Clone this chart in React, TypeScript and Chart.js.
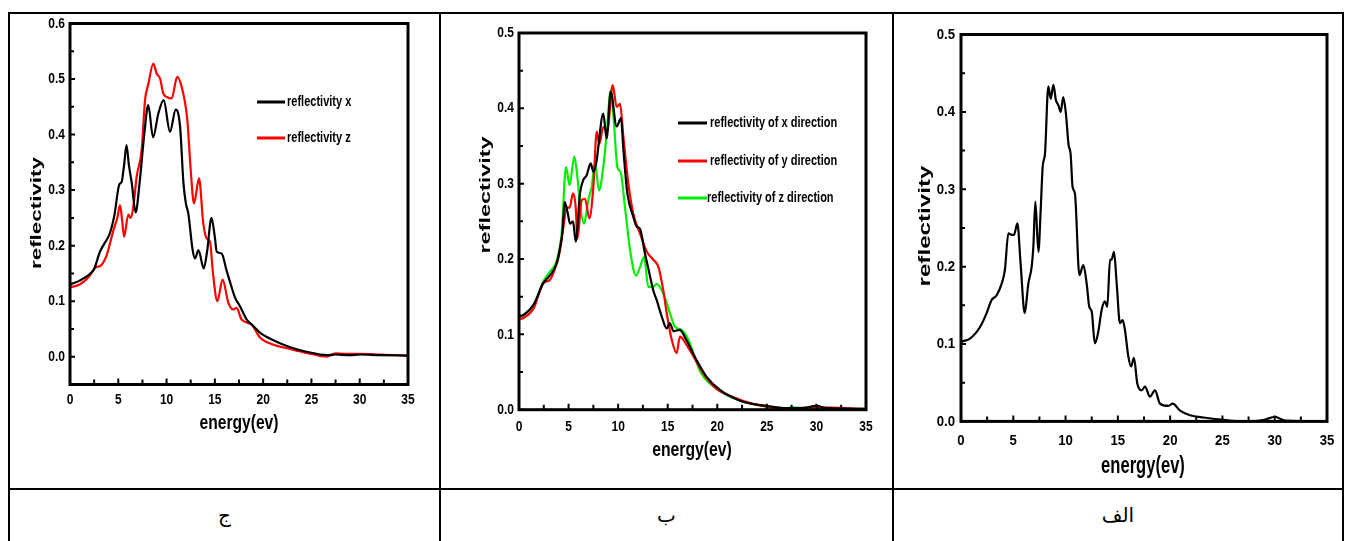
import React, { useEffect, useRef } from "react";
import { Chart, registerables } from "chart.js";

Chart.register(...registerables);

// ---------- Panel ج (left) ----------
const p1EnergyX = [0, 1, 2, 2.5, 3.1, 3.6, 4.1, 4.6, 5.1, 5.35, 5.6, 5.85, 6.1, 6.4, 6.8, 7.2, 7.7, 8.1, 8.6, 9.15, 9.7, 10.35, 10.95, 11.4, 11.75, 12.0, 12.25, 12.7, 12.95, 13.3, 13.85, 14.2, 14.65, 15.0, 15.2, 15.7, 16.2, 16.7, 17.1, 17.6, 18.3, 19.0, 19.7, 21.0, 22.8, 24.5, 26.6, 27.5, 29, 30, 32, 35];
const p1ReflX = [0.13, 0.137, 0.148, 0.158, 0.189, 0.205, 0.221, 0.255, 0.31, 0.315, 0.345, 0.381, 0.345, 0.312, 0.26, 0.312, 0.402, 0.453, 0.395, 0.438, 0.462, 0.405, 0.445, 0.414, 0.312, 0.276, 0.258, 0.192, 0.177, 0.192, 0.159, 0.19, 0.25, 0.215, 0.189, 0.186, 0.156, 0.127, 0.106, 0.091, 0.067, 0.055, 0.043, 0.03, 0.017, 0.009, 0.003, 0.004, 0.003, 0.004, 0.003, 0.002];
const p1EnergyZ = [0, 1, 2, 2.5, 2.8, 3.1, 3.8, 4.5, 4.9, 5.18, 5.4, 5.6, 6.04, 6.28, 6.56, 6.9, 7.42, 7.77, 8.1, 8.63, 8.97, 9.32, 9.66, 10.0, 10.53, 11.1, 11.56, 12.15, 12.5, 12.84, 13.36, 13.8, 14.15, 14.5, 14.8, 15.26, 15.8, 16.4, 16.9, 17.25, 17.77, 18.8, 19.7, 21, 22.8, 24.5, 26.6, 27.5, 28.5, 30, 32, 35];
const p1ReflZ = [0.125, 0.13, 0.145, 0.158, 0.162, 0.163, 0.183, 0.228, 0.25, 0.273, 0.245, 0.216, 0.256, 0.25, 0.27, 0.324, 0.372, 0.462, 0.49, 0.528, 0.51, 0.501, 0.474, 0.468, 0.465, 0.504, 0.486, 0.426, 0.336, 0.276, 0.321, 0.24, 0.213, 0.207, 0.151, 0.1, 0.139, 0.097, 0.085, 0.088, 0.067, 0.058, 0.034, 0.022, 0.014, 0.007, 0.0, 0.006, 0.005, 0.005, 0.004, 0.002];

// ---------- Panel ب (middle) ----------
const p2EnergyX = [0, 0.5, 1.5, 2.45, 3.1, 3.8, 4.1, 4.4, 4.6, 4.9, 5.15, 5.45, 5.72, 6.15, 6.49, 6.82, 7.23, 7.5, 7.84, 8.0, 8.5, 8.84, 9.25, 9.85, 10.29, 10.53, 10.93, 11.53, 11.87, 12.2, 12.71, 13.05, 13.55, 13.9, 14.39, 14.9, 15.2, 15.6, 16.2, 16.9, 17.9, 18.9, 20.3, 22.3, 25, 27, 28.5, 30, 31, 35];
const p2ReflX = [0.124, 0.126, 0.14, 0.168, 0.178, 0.194, 0.212, 0.238, 0.276, 0.262, 0.247, 0.25, 0.223, 0.287, 0.305, 0.311, 0.327, 0.316, 0.331, 0.349, 0.393, 0.36, 0.422, 0.376, 0.387, 0.345, 0.287, 0.256, 0.243, 0.24, 0.207, 0.187, 0.158, 0.145, 0.124, 0.108, 0.115, 0.104, 0.106, 0.092, 0.066, 0.044, 0.026, 0.012, 0.005, 0.002, 0.002, 0.005, 0.002, 0.001];
const p2EnergyY = [0, 0.5, 1.5, 2.45, 3.1, 3.8, 4.14, 4.5, 4.81, 5.1, 5.45, 5.72, 5.89, 6.32, 6.66, 7.1, 7.5, 7.84, 8.1, 8.5, 8.9, 9.45, 9.85, 10.19, 10.53, 11.03, 11.53, 12.2, 12.88, 13.55, 14.05, 14.56, 14.9, 15.4, 15.9, 16.23, 16.9, 17.5, 18.6, 19.9, 21.6, 23.5, 25, 26.5, 28, 30, 35];
const p2ReflY = [0.12, 0.122, 0.135, 0.168, 0.172, 0.194, 0.212, 0.245, 0.269, 0.268, 0.287, 0.269, 0.227, 0.278, 0.28, 0.254, 0.296, 0.369, 0.353, 0.375, 0.37, 0.431, 0.402, 0.406, 0.362, 0.3, 0.26, 0.234, 0.21, 0.199, 0.19, 0.158, 0.128, 0.093, 0.075, 0.097, 0.086, 0.073, 0.048, 0.028, 0.017, 0.008, 0.004, 0.001, 0.002, 0.003, 0.001];
const p2EnergyZ = [0, 0.5, 1.5, 2.45, 3.1, 3.8, 4.3, 4.74, 5.1, 5.58, 5.92, 6.15, 6.56, 6.99, 7.33, 7.67, 8.07, 8.5, 8.84, 9.25, 9.58, 9.92, 10.25, 10.69, 11.2, 11.8, 12.2, 12.61, 13.05, 13.48, 13.9, 14.56, 15.23, 15.73, 16.4, 17.08, 18.3, 19.9, 22.3, 25, 26.5, 27.5, 29, 30, 31, 35];
const p2ReflZ = [0.123, 0.126, 0.14, 0.17, 0.183, 0.198, 0.234, 0.322, 0.298, 0.336, 0.305, 0.273, 0.247, 0.278, 0.296, 0.327, 0.291, 0.322, 0.366, 0.424, 0.38, 0.322, 0.315, 0.269, 0.212, 0.178, 0.189, 0.203, 0.163, 0.163, 0.167, 0.154, 0.128, 0.11, 0.106, 0.093, 0.05, 0.028, 0.012, 0.004, 0.0, 0.003, 0.002, 0.003, 0.001, 0.001];

// ---------- Panel الف (right) ----------
const p3Energy = [0, 0.86, 1.82, 2.45, 2.93, 3.41, 3.89, 4.2, 4.53, 4.85, 5.07, 5.39, 5.7, 6.09, 6.44, 6.76, 6.92, 7.11, 7.4, 7.62, 7.81, 8.03, 8.35, 8.58, 8.83, 9.08, 9.3, 9.53, 9.78, 10.03, 10.29, 10.48, 10.67, 10.9, 11.32, 11.7, 12.02, 12.27, 12.5, 12.8, 13.13, 13.45, 13.77, 13.99, 14.25, 14.4, 14.63, 14.89, 15.2, 15.46, 15.68, 16.0, 16.26, 16.54, 16.86, 17.28, 17.6, 18.07, 18.55, 19.03, 19.83, 20.24, 20.95, 21.9, 23.2, 25.1, 27, 29, 30, 31, 35];
const p3Refl = [0.103, 0.107, 0.122, 0.14, 0.157, 0.163, 0.178, 0.196, 0.243, 0.241, 0.241, 0.256, 0.204, 0.14, 0.178, 0.2, 0.226, 0.284, 0.219, 0.273, 0.329, 0.346, 0.433, 0.417, 0.435, 0.415, 0.409, 0.4, 0.419, 0.398, 0.357, 0.346, 0.303, 0.294, 0.189, 0.202, 0.178, 0.148, 0.142, 0.101, 0.116, 0.144, 0.155, 0.148, 0.209, 0.209, 0.219, 0.178, 0.127, 0.131, 0.118, 0.084, 0.071, 0.082, 0.049, 0.04, 0.045, 0.032, 0.04, 0.023, 0.02, 0.023, 0.014, 0.008, 0.005, 0.002, 0.0, 0.002, 0.006, 0.001, 0.0];

// ---------- ticks / labels ----------
const xMajorTicks = [0, 5, 10, 15, 20, 25, 30, 35];
const xMinorTicks = [2.5, 7.5, 12.5, 17.5, 22.5, 27.5, 32.5];
const p1YLabels = [0, 0.1, 0.2, 0.3, 0.4, 0.5, 0.6];
const p1YMinor = [0.05, 0.15, 0.25, 0.35, 0.45, 0.55];
const p23YLabels = [0, 0.1, 0.2, 0.3, 0.4, 0.5];
const p23YMinor = [0.05, 0.15, 0.25, 0.35, 0.45];
const xTitleText = "energy(ev)";
const yTitleText = "reflectivity";
const p1LegendLabels = ["reflectivity x", "reflectivity z"];
const p2LegendLabels = ["reflectivity of x direction", "reflectivity of y direction", "reflectivity of z direction"];
const cellLabels = ["ج", "ب", "الف"];

const BLACK = "#000000";
const RED = "#ff0000";
const GREEN = "#00ee00";

type Series = { xs: number[]; ys: number[]; color: string; label: string };
type Panel = {
  box: { left: number; top: number; width: number; height: number };
  pad: { left: number; top: number; right: number; bottom: number };
  yMin: number;
  yMax: number;
  yLabels: number[];
  yMinor: number[];
  series: Series[];
  tickFont: number;
  tickK: number;
  xLabelGap: number;
  yLabelGap: number;
  yTitle: { cx: number; cy: number; size: number; k: number };
  xTitle: { cx: number; cy: number; size: number; k: number };
  legend: { x1: number; x2: number; textX: number[]; ys: number[]; size: number; k: number };
};

const panels: Panel[] = [
  {
    box: { left: 11, top: 15, width: 427, height: 472 },
    pad: { left: 59, top: 8.5, right: 30, bottom: 102.5 },
    yMin: -0.05,
    yMax: 0.6,
    yLabels: p1YLabels,
    yMinor: p1YMinor,
    series: [
      { xs: p1EnergyX, ys: p1ReflX, color: BLACK, label: p1LegendLabels[0] },
      { xs: p1EnergyZ, ys: p1ReflZ, color: RED, label: p1LegendLabels[1] },
    ],
    tickFont: 15,
    tickK: 0.8,
    xLabelGap: 15.5,
    yLabelGap: 5,
    yTitle: { cx: 37, cy: 213, size: 22.4, k: 0.64 },
    xTitle: { cx: 239, cy: 423, size: 20, k: 0.78 },
    legend: { x1: 257, x2: 285, textX: [287, 287], ys: [102, 138], size: 14.5, k: 0.76 },
  },
  {
    box: { left: 442, top: 15, width: 449, height: 472 },
    pad: { left: 77, top: 18, right: 25, bottom: 77.3 },
    yMin: 0,
    yMax: 0.5,
    yLabels: p23YLabels,
    yMinor: p23YMinor,
    series: [
      { xs: p2EnergyX, ys: p2ReflX, color: BLACK, label: p2LegendLabels[0] },
      { xs: p2EnergyY, ys: p2ReflY, color: RED, label: p2LegendLabels[1] },
      { xs: p2EnergyZ, ys: p2ReflZ, color: GREEN, label: p2LegendLabels[2] },
    ],
    tickFont: 15,
    tickK: 0.8,
    xLabelGap: 17,
    yLabelGap: 5,
    yTitle: { cx: 486, cy: 195, size: 23.4, k: 0.62 },
    xTitle: { cx: 692, cy: 450, size: 21, k: 0.75 },
    legend: { x1: 678, x2: 707, textX: [710, 710, 707], ys: [123, 161, 198], size: 15.5, k: 0.71 },
  },
  {
    box: { left: 895, top: 15, width: 446, height: 472 },
    pad: { left: 66, top: 19.5, right: 14, bottom: 65.6 },
    yMin: 0,
    yMax: 0.5,
    yLabels: p23YLabels,
    yMinor: p23YMinor,
    series: [{ xs: p3Energy, ys: p3Refl, color: BLACK, label: "reflectivity" }],
    tickFont: 15.5,
    tickK: 0.85,
    xLabelGap: 19,
    yLabelGap: 6,
    yTitle: { cx: 926, cy: 226, size: 24.2, k: 0.66 },
    xTitle: { cx: 1143, cy: 466, size: 24, k: 0.69 },
    legend: { x1: 0, x2: 0, textX: [], ys: [], size: 14, k: 0.77 },
  },
];

const FONT = '"Liberation Sans", Arial, "DejaVu Sans", sans-serif';

function drawText(
  ctx: CanvasRenderingContext2D,
  text: string,
  x: number,
  y: number,
  size: number,
  k: number,
  align: CanvasTextAlign,
  rotate = false
) {
  ctx.save();
  ctx.translate(x, y);
  ctx.scale(k, 1);
  if (rotate) ctx.rotate(-Math.PI / 2);
  ctx.font = `bold ${size}px ${FONT}`;
  ctx.fillStyle = "#000";
  ctx.textAlign = align;
  ctx.textBaseline = "middle";
  ctx.fillText(text, 0, 0);
  ctx.restore();
}

function makePlugin(p: Panel) {
  return {
    id: "decor",
    afterDraw(chart: any) {
      const ctx: CanvasRenderingContext2D = chart.ctx;
      const { left, right, top, bottom } = chart.chartArea;
      const xs = chart.scales.x;
      const ys = chart.scales.y;
      const ox = p.box.left;
      const oy = p.box.top;
      ctx.save();
      // ticks
      ctx.strokeStyle = "#000";
      ctx.lineWidth = 2;
      ctx.beginPath();
      xMajorTicks.forEach((v) => {
        const px = xs.getPixelForValue(v);
        ctx.moveTo(px, bottom);
        ctx.lineTo(px, bottom - 6);
      });
      xMinorTicks.forEach((v) => {
        const px = xs.getPixelForValue(v);
        ctx.moveTo(px, bottom);
        ctx.lineTo(px, bottom - 5);
      });
      p.yLabels.forEach((v) => {
        const py = ys.getPixelForValue(v);
        ctx.moveTo(left, py);
        ctx.lineTo(left + 5, py);
      });
      p.yMinor.forEach((v) => {
        const py = ys.getPixelForValue(v);
        ctx.moveTo(left, py);
        ctx.lineTo(left + 4, py);
      });
      ctx.stroke();
      // frame
      ctx.lineWidth = 3;
      ctx.strokeRect(left, top, right - left, bottom - top);
      // tick labels
      xMajorTicks.forEach((v) => {
        drawText(ctx, String(v), xs.getPixelForValue(v), bottom + p.xLabelGap, p.tickFont, p.tickK, "center");
      });
      p.yLabels.forEach((v) => {
        drawText(ctx, v.toFixed(1), left - p.yLabelGap, ys.getPixelForValue(v), p.tickFont, p.tickK, "right");
      });
      // titles
      drawText(ctx, yTitleText, p.yTitle.cx - ox, p.yTitle.cy - oy, p.yTitle.size, p.yTitle.k, "center", true);
      drawText(ctx, xTitleText, p.xTitle.cx - ox, p.xTitle.cy - oy, p.xTitle.size, p.xTitle.k, "center");
      // legend
      p.legend.ys.forEach((ly, i) => {
        const s = p.series[i];
        ctx.strokeStyle = s.color;
        ctx.lineWidth = 3;
        ctx.beginPath();
        ctx.moveTo(p.legend.x1 - ox, ly - oy);
        ctx.lineTo(p.legend.x2 - ox, ly - oy);
        ctx.stroke();
        drawText(ctx, s.label, p.legend.textX[i] - ox, ly - oy, p.legend.size, p.legend.k, "left");
      });
      ctx.restore();
    },
  };
}

function PanelChart({ p }: { p: Panel }) {
  const ref = useRef<HTMLCanvasElement | null>(null);
  useEffect(() => {
    if (!ref.current) return;
    const chart = new Chart(ref.current, {
      type: "line",
      data: {
        datasets: p.series.map((s) => ({
          label: s.label,
          data: s.xs.map((x, i) => ({ x, y: s.ys[i] })),
          borderColor: s.color,
          backgroundColor: s.color,
          borderWidth: 2.2,
          pointRadius: 0,
          fill: false,
          cubicInterpolationMode: "monotone" as const,
        })),
      },
      options: {
        responsive: false,
        animation: false,
        devicePixelRatio: 1,
        layout: { padding: p.pad },
        plugins: { legend: { display: false }, tooltip: { enabled: false } },
        scales: {
          x: { type: "linear", min: 0, max: 35, display: false },
          y: { type: "linear", min: p.yMin, max: p.yMax, display: false },
        },
      },
      plugins: [makePlugin(p)],
    });
    return () => chart.destroy();
  }, [p]);
  return (
    <canvas
      ref={ref}
      width={p.box.width}
      height={p.box.height}
      style={{ position: "absolute", left: p.box.left, top: p.box.top, width: p.box.width, height: p.box.height }}
    />
  );
}

const line = (left: number, top: number, width: number, height: number) => (
  <div style={{ position: "absolute", left, top, width, height, background: "#000" }} />
);

export default function App() {
  const cells = [
    { left: 9, right: 440 },
    { left: 440, right: 893 },
    { left: 893, right: 1343 },
  ];
  return (
    <div style={{ position: "fixed", left: 0, top: 0, width: 1349, height: 541, background: "#fff", overflow: "hidden" }}>
      {panels.map((p, i) => (
        <PanelChart key={i} p={p} />
      ))}
      {line(8, 12, 1336, 2)}
      {line(8, 488, 1336, 2)}
      {line(8, 12, 2, 529)}
      {line(439, 12, 2, 529)}
      {line(892, 12, 2, 529)}
      {line(1342, 12, 2, 529)}
      {cells.map((c, i) => (
        <div
          key={i}
          dir="rtl"
          style={{
            position: "absolute",
            left: c.left,
            width: c.right - c.left,
            top: 500,
            height: 30,
            lineHeight: "30px",
            textAlign: "center",
            fontSize: 20,
            fontFamily: '"Times New Roman", "Liberation Serif", "DejaVu Sans", serif',
            color: "#000",
          }}
        >
          {cellLabels[i]}
        </div>
      ))}
    </div>
  );
}
